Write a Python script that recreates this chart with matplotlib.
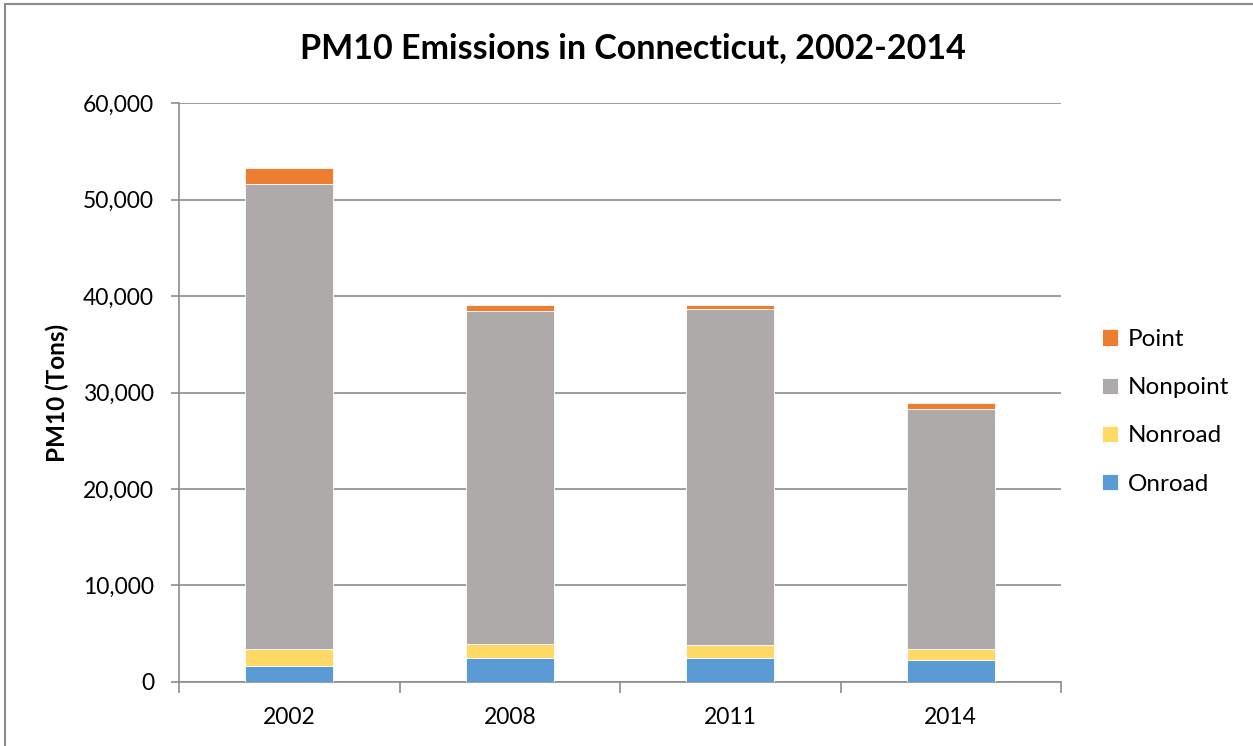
import matplotlib.pyplot as plt
import numpy as np
from matplotlib.patches import Rectangle
from matplotlib.ticker import FuncFormatter

plt.rcParams['font.family'] = ['Lato', 'DejaVu Sans']

# PM10 emissions by source sector, tons
years = ["2002", "2008", "2011", "2014"]
onroad = [1690, 2520, 2520, 2280]
nonroad = [1760, 1450, 1310, 1140]
nonpoint = [48150, 34480, 34820, 24900]
point = [1660, 620, 450, 560]

series = [("Onroad", onroad, "#5B9BD5"),
          ("Nonroad", nonroad, "#FFD966"),
          ("Nonpoint", nonpoint, "#AEAAAA"),
          ("Point", point, "#ED7D31")]

axisGray = "#8C8C8C"

fig = plt.figure(figsize=(12.53, 7.46), dpi=100)
ax = fig.add_axes([0.1429, 0.0858, 0.7039, 0.7761])

x = np.arange(len(years))
bottom = np.zeros(len(years))
handles = []
for name, vals, color in series:
	b = ax.bar(x, vals, 0.4, bottom=bottom, color=color, label=name,
			   edgecolor="white", linewidth=0.6, zorder=3)
	handles.append(b)
	bottom += np.array(vals)

ax.set_xlim(-0.5, len(years) - 0.5)
ax.set_ylim(0, 60000)
ax.set_yticks(np.arange(0, 60001, 10000))
ax.yaxis.set_major_formatter(FuncFormatter(lambda v, p: "{:,.0f}".format(v)))
ax.grid(axis="y", color=axisGray, linewidth=1.2, zorder=0)

ax.set_xticks(x)
ax.set_xticklabels(years)
ax.set_xticks(np.arange(-0.5, len(years)), minor=True)
ax.tick_params(axis="x", which="major", length=0, pad=18, labelsize=16.5)
ax.tick_params(axis="x", which="minor", length=8, width=1.2, color=axisGray)
ax.tick_params(axis="y", length=6, width=1.2, color=axisGray, pad=12, labelsize=16.5)

for side in ["top", "right"]:
	ax.spines[side].set_visible(False)
for side in ["left", "bottom"]:
	ax.spines[side].set_color(axisGray)
	ax.spines[side].set_linewidth(1.2)

ax.set_ylabel("PM10 (Tons)", fontsize=17.5, fontweight="bold", labelpad=10)
fig.text(0.505, 0.935, "PM10 Emissions in Connecticut, 2002-2014",
		 ha="center", va="center", fontsize=24.5, fontweight="bold")

leg = fig.legend(handles[::-1], [s[0] for s in series][::-1],
				 loc="center left", bbox_to_anchor=(0.862, 0.448),
				 frameon=False, fontsize=17.5, handlelength=0.65, handleheight=0.65,
				 handletextpad=0.4, labelspacing=1.12)

# outer chart frame
fig.patches.append(Rectangle((5 / 1253, -0.1), 1.2, 1.1 - 4 / 746,
							 transform=fig.transFigure, fill=False,
							 edgecolor="#8C8C8C", linewidth=1.5))

fig.savefig("out.png", dpi=100)
